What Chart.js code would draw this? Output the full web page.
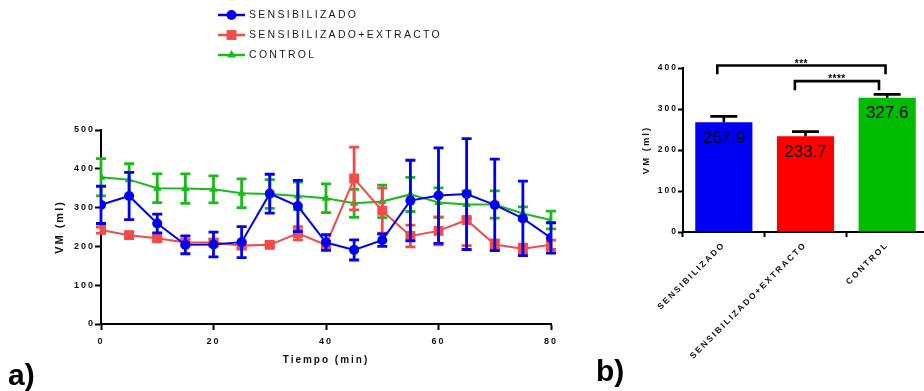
<!DOCTYPE html>
<html>
<head>
<meta charset="utf-8">
<script src="https://cdn.jsdelivr.net/npm/chart.js@4.4.1/dist/chart.umd.min.js"></script>
<style>
  html, body { margin: 0; padding: 0; background: #fff; }
  body { width: 924px; height: 391px; position: relative; overflow: hidden; font-family: "Liberation Sans", Arial, sans-serif; }
  #chart-a { position: absolute; left: 0; top: 0; }
  #chart-b { position: absolute; left: 590px; top: 0; }
  .tag { position: absolute; font-weight: bold; font-size: 30px; line-height: 30px; color: #000; }
</style>
</head>
<body>
<canvas id="chart-a" width="590" height="391"></canvas>
<canvas id="chart-b" width="340" height="391"></canvas>
<div class="tag" style="left:8px;top:360px">a)</div>
<div class="tag" style="left:596px;top:356px">b)</div>
<script>
// a) VM (ml) over time
const tiempo = [0, 5, 10, 15, 20, 25, 30, 35, 40, 45, 50, 55, 60, 65, 70, 75, 80];
const sensibilizado = [307, 330, 259, 204, 205, 211, 336, 304, 210, 191, 216, 318, 331, 335, 307, 272, 222];
const sensibilizadoErr = [48, 61, 24, 23, 32, 40, 50, 66, 20, 26, 16, 104, 123, 143, 118, 96, 39];
const extracto = [242, 229, 221, 210, 210, 202, 204, 234, 204, 375, 292, 227, 240, 268, 205, 194, 204];
const extractoErr = [8, 8, 7, 8, 8, 7, 6, 17, 10, 81, 58, 28, 36, 66, 12, 12, 12];
const control = [378, 372, 350, 349, 347, 337, 335, 330, 324, 311, 316, 334, 313, 308, 308, 285, 268];
const controlErr = [48, 41, 37, 38, 35, 37, 37, 36, 37, 36, 42, 44, 38, 35, 35, 17, 23];

// b) mean VM per group
const grupos = ["SENSIBILIZADO", "SENSIBILIZADO+EXTRACTO", "CONTROL"];
const medias = [267.9, 233.7, 327.6];
const mediasErr = [14, 11, 8];
// significance brackets: [from group, to group, level, leg end, stars]
const comparaciones = [
  [-0.08, 1.98, 406, 385, "***"],
  [0.87, 1.9, 368, 346, "****"],
];

const FONT = '"Liberation Sans", Arial, sans-serif';
const BLUE = "#0000f2";
const RED = "#f34a4a";
const GREEN = "#1cb81c";

const spacing = {
  id: "spacing",
  beforeUpdate(chart, args, opts) { chart.ctx.letterSpacing = opts.value; },
  beforeDraw(chart, args, opts) { chart.ctx.letterSpacing = opts.value; },
};

const errorBars = {
  id: "errorBars",
  beforeDatasetDraw(chart, args) {
    const ds = chart.data.datasets[args.index];
    if (!ds.errors || chart.config.type !== "line") return;
    const y = chart.scales.y;
    const ctx = chart.ctx;
    ctx.save();
    ctx.strokeStyle = ds.borderColor;
    ctx.lineWidth = 2.8;
    args.meta.data.forEach((pt, i) => {
      const v = ds.data[i].y, e = ds.errors[i];
      const top = y.getPixelForValue(v + e), bot = y.getPixelForValue(v - e);
      ctx.beginPath();
      ctx.moveTo(pt.x, top); ctx.lineTo(pt.x, bot);
      ctx.moveTo(pt.x - 5, top); ctx.lineTo(pt.x + 5, top);
      ctx.moveTo(pt.x - 5, bot); ctx.lineTo(pt.x + 5, bot);
      ctx.stroke();
    });
    ctx.restore();
  },
};

const legendLines = {
  id: "legendLines",
  afterDraw(chart, args, opts) {
    const ctx = chart.ctx;
    ctx.save();
    ctx.letterSpacing = "2.3px";
    ctx.font = "10.5px " + FONT;
    ctx.textBaseline = "middle";
    chart.data.datasets.forEach((ds, i) => {
      const y = opts.y + i * opts.gap;
      ctx.strokeStyle = ds.borderColor;
      ctx.lineWidth = 2.5;
      ctx.beginPath();
      ctx.moveTo(opts.x, y); ctx.lineTo(opts.x + 27, y);
      ctx.stroke();
      ctx.fillStyle = ds.backgroundColor;
      Chart.helpers.drawPoint(ctx, { pointStyle: ds.pointStyle, radius: ds.pointRadius, rotation: 0, borderWidth: 0 }, opts.x + 13.5, y);
      ctx.fillStyle = "#1a1a1a";
      ctx.fillText(ds.label, opts.x + 31, y);
    });
    ctx.restore();
  },
};

function axisStyle(size) {
  return {
    ticks: { color: "#111", font: { family: FONT, size: size, weight: "bold" } },
    grid: { drawOnChartArea: false, tickLength: 6, tickWidth: 2, tickColor: "#000" },
    border: { color: "#000", width: 2 },
  };
}

function series(label, values, errs, color, style, radius) {
  return {
    label,
    data: tiempo.map((t, i) => ({ x: t, y: values[i] })),
    errors: errs,
    borderColor: color,
    backgroundColor: color,
    borderWidth: 2,
    pointStyle: style,
    pointRadius: radius,
    pointBorderWidth: 0,
    pointBackgroundColor: color,
  };
}

const xA = axisStyle(9);
const yA = axisStyle(9);
new Chart(document.getElementById("chart-a"), {
  type: "line",
  data: {
    datasets: [
      series("SENSIBILIZADO", sensibilizado, sensibilizadoErr, BLUE, "circle", 5),
      series("SENSIBILIZADO+EXTRACTO", extracto, extractoErr, RED, "rect", 7),
      series("CONTROL", control, controlErr, GREEN, "triangle", 5),
    ],
  },
  options: {
    responsive: false,
    animation: false,
    events: [],
    layout: { padding: { top: 130, right: 39, left: 0, bottom: 0 } },
    plugins: {
      legend: { display: false },
      tooltip: { enabled: false },
      spacing: { value: "2px" },
      legendLines: { x: 218, y: 15, gap: 20 },
    },
    scales: {
      x: {
        type: "linear", min: 0, max: 80,
        ticks: { ...xA.ticks, stepSize: 20, padding: 6 },
        grid: xA.grid, border: xA.border,
        title: { display: true, text: "Tiempo (min)", color: "#111", font: { family: FONT, size: 10, weight: "bold" }, padding: { bottom: 25 } },
        afterFit(s) { s.height = 67; },
      },
      y: {
        min: 0, max: 500,
        ticks: { ...yA.ticks, stepSize: 100, padding: 0 },
        grid: yA.grid, border: yA.border,
        title: { display: true, text: "VM (ml)", color: "#111", font: { family: FONT, size: 11, weight: "bold" }, padding: { top: 53 } },
        afterFit(s) { s.width = 101; },
      },
    },
  },
  plugins: [spacing, errorBars, legendLines],
});

const barExtras = {
  id: "barExtras",
  afterDraw(chart) {
    const ctx = chart.ctx;
    const x = chart.scales.x, y = chart.scales.y;
    const meta = chart.getDatasetMeta(0);
    ctx.save();
    ctx.letterSpacing = "0px";
    ctx.strokeStyle = "#000";
    ctx.lineWidth = 2.6;
    meta.data.forEach((bar, i) => {
      const top = y.getPixelForValue(medias[i]);
      const end = y.getPixelForValue(medias[i] + mediasErr[i]);
      ctx.beginPath();
      ctx.moveTo(bar.x, top); ctx.lineTo(bar.x, end);
      ctx.moveTo(bar.x - 13.5, end); ctx.lineTo(bar.x + 13.5, end);
      ctx.stroke();
      ctx.fillStyle = "#000";
      ctx.font = "17px " + FONT;
      ctx.textAlign = "center";
      ctx.textBaseline = "middle";
      ctx.fillText(medias[i].toFixed(1), bar.x, top + 16);
    });
    comparaciones.forEach(([a, b, level, leg, stars]) => {
      const x1 = x.getPixelForValue(a), x2 = x.getPixelForValue(b);
      const yl = y.getPixelForValue(level), yg = y.getPixelForValue(leg);
      ctx.beginPath();
      ctx.moveTo(x1, yg); ctx.lineTo(x1, yl); ctx.lineTo(x2, yl); ctx.lineTo(x2, yg);
      ctx.stroke();
      ctx.font = "bold 10px " + FONT;
      ctx.letterSpacing = "0.5px";
      ctx.textBaseline = "alphabetic";
      ctx.fillText(stars, (x1 + x2) / 2, yl + 1);
      ctx.letterSpacing = "0px";
    });
    ctx.restore();
  },
};

const xB = axisStyle(8.5);
const yB = axisStyle(8.5);
new Chart(document.getElementById("chart-b"), {
  type: "bar",
  data: {
    labels: grupos,
    datasets: [{
      label: "VM",
      data: medias,
      backgroundColor: [BLUE, "#ff0000", "#00bb00"],
      barPercentage: 0.7,
      categoryPercentage: 1,
    }],
  },
  options: {
    responsive: false,
    animation: false,
    events: [],
    layout: { padding: { top: 68, right: 2, left: 0, bottom: 0 } },
    plugins: {
      legend: { display: false },
      tooltip: { enabled: false },
      spacing: { value: "2px" },
    },
    scales: {
      x: {
        ticks: { ...xB.ticks, autoSkip: false, minRotation: 45, maxRotation: 45, padding: 3 },
        grid: { ...xB.grid, tickLength: 5 }, border: xB.border,
        afterFit(s) { s.height = 159; },
      },
      y: {
        min: 0, max: 400,
        ticks: { ...yB.ticks, stepSize: 100, padding: 0 },
        grid: { ...yB.grid, tickLength: 5 }, border: yB.border,
        title: { display: true, text: "VM (ml)", color: "#111", font: { family: FONT, size: 9.5, weight: "bold" }, padding: { top: 51 } },
        afterFit(s) { s.width = 93; },
      },
    },
  },
  plugins: [spacing, barExtras],
});
</script>
</body>
</html>
